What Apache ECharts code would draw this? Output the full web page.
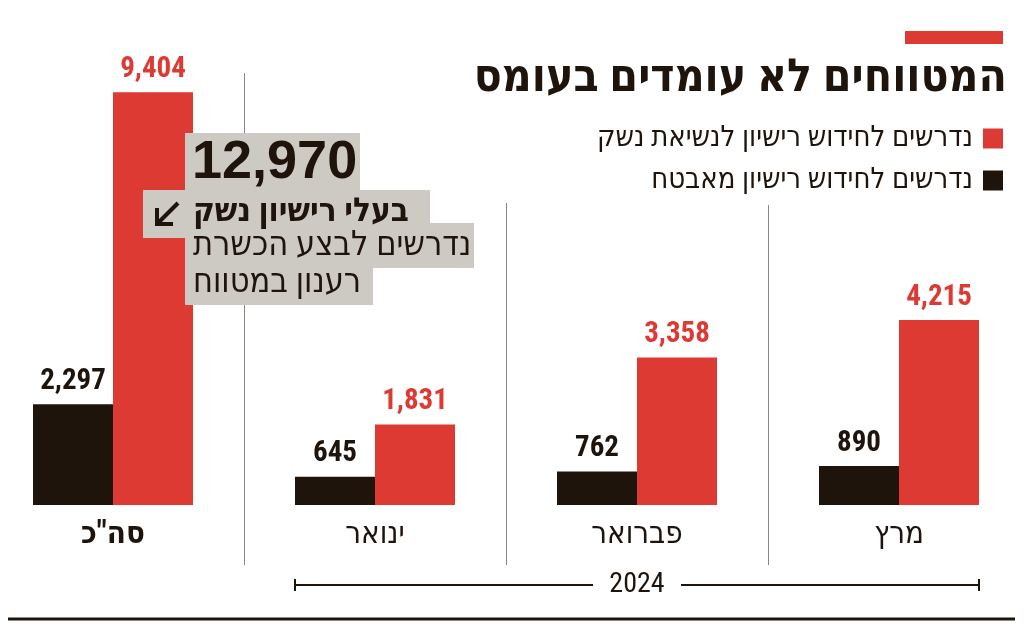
<!DOCTYPE html>
<html lang="he">
<head>
<meta charset="utf-8">
<script src="https://cdn.jsdelivr.net/npm/echarts@6/dist/echarts.min.js"></script>
<style>
html,body{margin:0;padding:0;background:#fff;}
#chart{width:1024px;height:629px;}
</style>
</head>
<body>
<div id="chart"></div>
<script>
const categories = ['סה"כ', 'ינואר', 'פברואר', 'מרץ'];
const guardValues = [2297, 645, 762, 890];
const carryValues = [9404, 1831, 3358, 4215];
const seriesNames = ['נדרשים לחידוש רישיון מאבטח', 'נדרשים לחידוש רישיון לנשיאת נשק'];
const titleText = 'המטווחים לא עומדים בעומס';
const yearLabel = '2024';
const annotationLines = ['12,970', 'בעלי רישיון נשק', 'נדרשים לבצע הכשרת', 'רענון במטווח'];

const RED = '#dc3a32';
const DARK = '#1e140c';
const GRAY = '#cdcac4';
const NARROW = "'Roboto Condensed', 'Liberation Sans Narrow', 'DejaVu Sans Condensed', sans-serif";

const chart = echarts.init(document.getElementById('chart'), null, {renderer: 'canvas'});

const fmt = v => v.toLocaleString('en-US');

chart.setOption({
  animation: false,
  backgroundColor: '#fff',
  title: {
    text: titleText,
    right: 12,
    top: 51,
    textStyle: {fontFamily: NARROW, fontSize: 46, fontWeight: 'bold', color: DARK}
  },
  legend: {
    data: [seriesNames[1], seriesNames[0]],
    orient: 'vertical',
    right: 16,
    top: 119,
    align: 'right',
    itemWidth: 20,
    itemHeight: 20,
    itemGap: 13,
    icon: 'rect',
    textStyle: {fontFamily: NARROW, fontSize: 29, color: DARK, padding: [0, 5, 0, 0]}
  },
  grid: {left: -18, right: -6, top: 66, bottom: 124, containLabel: false, outerBoundsMode: 'none'},
  xAxis: {
    type: 'category',
    data: categories,
    axisLine: {show: false},
    axisTick: {show: false},
    splitLine: {show: false},
    axisLabel: {
      margin: 15,
      fontFamily: NARROW,
      fontSize: 31,
      color: DARK,
      formatter: (v, i) => i === 0 ? '{b|' + v + '}' : v,
      rich: {b: {fontFamily: NARROW, fontSize: 31, fontWeight: 'bold', color: DARK}}
    }
  },
  yAxis: {type: 'value', min: 0, max: 10000, show: false, splitLine: {show: false}},
  series: [
    {
      name: seriesNames[0], type: 'bar', data: guardValues, barWidth: 80, barGap: '0%',
      itemStyle: {color: DARK},
      label: {show: true, position: 'top', distance: 8, formatter: p => fmt(p.value),
        fontFamily: NARROW, fontSize: 29, fontWeight: 'bold', color: DARK}
    },
    {
      name: seriesNames[1], type: 'bar', data: carryValues, barWidth: 80, barGap: '0%',
      itemStyle: {color: RED},
      label: {show: true, position: 'top', distance: 8, formatter: p => fmt(p.value),
        fontFamily: NARROW, fontSize: 29, fontWeight: 'bold', color: RED}
    }
  ]
});

// decorations derived from axis positions
const cx = categories.map((c, i) => chart.convertToPixel({xAxisIndex: 0}, i));
const sepTops = [73, 203, 205];
const graphics = [];
for (let i = 0; i < cx.length - 1; i++) {
  const x = Math.round((cx[i] + cx[i + 1]) / 2) + 0.5;
  graphics.push({type: 'line', shape: {x1: x, y1: sepTops[i], x2: x, y2: 565},
    style: {stroke: '#8a8680', lineWidth: 1}, z: 1});
}
// red bar above title
graphics.push({type: 'rect', shape: {x: 905, y: 31, width: 98, height: 13}, style: {fill: RED}});
// bracket 2024
const bx1 = cx[1] - 80, bx2 = cx[3] + 80, by = 585, bm = (bx1 + bx2) / 2;
graphics.push({type: 'line', shape: {x1: bx1, y1: by, x2: bm - 44, y2: by}, style: {stroke: DARK, lineWidth: 2}});
graphics.push({type: 'line', shape: {x1: bm + 44, y1: by, x2: bx2, y2: by}, style: {stroke: DARK, lineWidth: 2}});
graphics.push({type: 'line', shape: {x1: bx1, y1: by - 6, x2: bx1, y2: by + 6}, style: {stroke: DARK, lineWidth: 2}});
graphics.push({type: 'line', shape: {x1: bx2, y1: by - 6, x2: bx2, y2: by + 6}, style: {stroke: DARK, lineWidth: 2}});
graphics.push({type: 'text', x: bm, y: by, style: {text: yearLabel, fontFamily: NARROW, fontSize: 28,
  fill: DARK, textAlign: 'center', textVerticalAlign: 'middle'}});
// bottom rule
graphics.push({type: 'line', shape: {x1: 8, y1: 619, x2: 1015, y2: 619}, style: {stroke: DARK, lineWidth: 3}});
// annotation box
const boxes = [[185, 133, 175, 59], [143, 190, 287, 48], [185, 223, 289, 45], [185, 266, 188, 39]];
boxes.forEach(b => graphics.push({type: 'rect', shape: {x: b[0], y: b[1], width: b[2], height: b[3]},
  style: {fill: GRAY}, z: 10}));
graphics.push({type: 'text', x: 192, y: 190, z: 11, style: {text: annotationLines[0], fontFamily: "'Liberation Sans', sans-serif",
  fontSize: 54, fontWeight: 'bold', fill: DARK, textAlign: 'left', textVerticalAlign: 'bottom'}});
graphics.push({type: 'text', x: 193, y: 213, z: 11, style: {text: annotationLines[1], fontFamily: NARROW,
  fontSize: 33, fontWeight: 'bold', fill: DARK, textAlign: 'left', textVerticalAlign: 'middle'}});
graphics.push({type: 'text', x: 193, y: 246, z: 11, style: {text: annotationLines[2], fontFamily: NARROW,
  fontSize: 34, fill: DARK, textAlign: 'left', textVerticalAlign: 'middle'}});
graphics.push({type: 'text', x: 193, y: 283, z: 11, style: {text: annotationLines[3], fontFamily: NARROW,
  fontSize: 34, fill: DARK, textAlign: 'left', textVerticalAlign: 'middle'}});
// arrow
graphics.push({type: 'polyline', z: 11, shape: {points: [[178, 203], [157, 224]]},
  style: {stroke: DARK, lineWidth: 4, fill: null}});
graphics.push({type: 'polyline', z: 11, shape: {points: [[157, 208], [157, 224], [173, 224]]},
  style: {stroke: DARK, lineWidth: 4, fill: null, lineJoin: 'miter'}});

chart.setOption({graphic: graphics});
</script>
</body>
</html>
